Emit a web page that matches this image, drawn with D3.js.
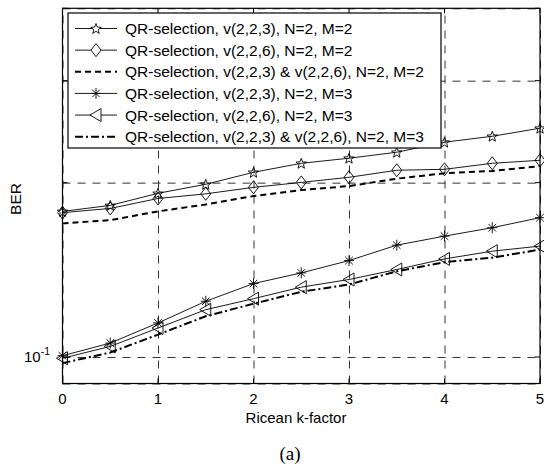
<!DOCTYPE html>
<html>
<head>
<meta charset="utf-8">
<script src="https://cdn.jsdelivr.net/npm/d3@7"></script>
<style>
	body { margin: 0; background: #fff; }
	svg { display: block; font-family: "Liberation Sans", Arial, sans-serif; }
</style>
</head>
<body>
<div id="chart"></div>
<script>

	// data
	const kFactor = [0, 0.5, 1, 1.5, 2, 2.5, 3, 3.5, 4, 4.5, 5];

	const berV223M2 = [0.1784, 0.1827, 0.1917, 0.1987, 0.2084, 0.2160, 0.2204, 0.2257, 0.2349, 0.2405, 0.2483];
	const berV226M2 = [0.1775, 0.1805, 0.1878, 0.1913, 0.1963, 0.2002, 0.2043, 0.2101, 0.2109, 0.2160, 0.2186];
	const berBothM2 = [0.1701, 0.1723, 0.1784, 0.1834, 0.1896, 0.1942, 0.1973, 0.2032, 0.2076, 0.2095, 0.2136];
	const berV223M3 = [0.1005, 0.1057, 0.1145, 0.1248, 0.1339, 0.1397, 0.1467, 0.1560, 0.1617, 0.1672, 0.1740];
	const berV226M3 = [0.0995, 0.1043, 0.1122, 0.1207, 0.1261, 0.1320, 0.1361, 0.1416, 0.1477, 0.1523, 0.1554];
	const berBothM3 = [0.0976, 0.1018, 0.1093, 0.1176, 0.1236, 0.1296, 0.1334, 0.1406, 0.1458, 0.1484, 0.1533];

	const legendLabels = [
		"QR-selection, v(2,2,3), N=2, M=2",
		"QR-selection, v(2,2,6), N=2, M=2",
		"QR-selection, v(2,2,3) & v(2,2,6), N=2, M=2",
		"QR-selection, v(2,2,3), N=2, M=3",
		"QR-selection, v(2,2,6), N=2, M=3",
		"QR-selection, v(2,2,3) & v(2,2,6), N=2, M=3"
	];

	const xTicks = [0, 1, 2, 3, 4, 5];
	const yGrid = [0.09, 0.1, 0.2, 0.3, 0.4];

	// series styles
	const series = [
		{values: berV223M2, marker: "star", dash: null, width: 0.9},
		{values: berV226M2, marker: "diamond", dash: null, width: 0.9},
		{values: berBothM2, marker: null, dash: "6,4", width: 2},
		{values: berV223M3, marker: "asterisk", dash: null, width: 0.9},
		{values: berV226M3, marker: "triangle", dash: null, width: 0.9},
		{values: berBothM3, marker: null, dash: "8,3,2,3", width: 2}
	];

	const W = 544, H = 468;
	const pLeft = 62.5, pRight = 540, pTop = 8.3, pBottom = 383.5;

	const sx = d3.scaleLinear().domain([0, 5]).range([pLeft, pRight]);
	const sy = d3.scaleLog().domain([0.09, 0.4]).range([pBottom, pTop]);

	const svg = d3.select("#chart").append("svg")
		.attr("width", W)
		.attr("height", H);

	// grid
	svg.append("g")
		.attr("transform", `translate(0,${pBottom})`)
		.call(d3.axisBottom(sx).tickValues(xTicks).tickSize(-(pBottom - pTop)).tickFormat(""))
		.call(g => g.select(".domain").remove())
		.selectAll("line")
		.attr("stroke", "#333")
		.attr("stroke-dasharray", "8,7");

	svg.append("g")
		.attr("transform", `translate(${pLeft},0)`)
		.call(d3.axisLeft(sy).tickValues(yGrid).tickSize(-(pRight - pLeft)).tickFormat(""))
		.call(g => g.select(".domain").remove())
		.selectAll("line")
		.attr("stroke", "#333")
		.attr("stroke-dasharray", "8,7");

	// inward ticks on all four sides
	const tick = 5;
	const ticks = svg.append("g").attr("stroke", "#000");
	xTicks.forEach(v => {
		ticks.append("line").attr("x1", sx(v)).attr("x2", sx(v)).attr("y1", pBottom).attr("y2", pBottom - tick);
		ticks.append("line").attr("x1", sx(v)).attr("x2", sx(v)).attr("y1", pTop).attr("y2", pTop + tick);
	});
	yGrid.forEach(v => {
		ticks.append("line").attr("y1", sy(v)).attr("y2", sy(v)).attr("x1", pLeft).attr("x2", pLeft + tick);
		ticks.append("line").attr("y1", sy(v)).attr("y2", sy(v)).attr("x1", pRight).attr("x2", pRight - tick);
	});

	// box
	svg.append("rect")
		.attr("x", pLeft).attr("y", pTop)
		.attr("width", pRight - pLeft).attr("height", pBottom - pTop)
		.attr("fill", "none")
		.attr("stroke", "#000")
		.attr("stroke-width", 1.2);

	// tick labels
	svg.append("g")
		.selectAll("text")
		.data(xTicks)
		.enter()
		.append("text")
		.attr("x", d => sx(d))
		.attr("y", 404)
		.attr("text-anchor", "middle")
		.attr("font-size", 15)
		.text(d => d);

	const yLab = svg.append("text")
		.attr("x", 50)
		.attr("y", sy(0.1) + 5)
		.attr("text-anchor", "end")
		.attr("font-size", 15);
	yLab.append("tspan").text("10");
	yLab.append("tspan").attr("dy", -7).attr("font-size", 10.5).text("-1");

	// axis labels
	svg.append("text")
		.attr("x", 296).attr("y", 423)
		.attr("text-anchor", "middle")
		.attr("font-size", 15)
		.text("Ricean k-factor");

	svg.append("text")
		.attr("transform", "translate(21,199) rotate(-90)")
		.attr("text-anchor", "middle")
		.attr("font-size", 15.5)
		.text("BER");

	svg.append("text")
		.attr("x", 290).attr("y", 460)
		.attr("text-anchor", "middle")
		.attr("font-family", "'Liberation Serif', 'Times New Roman', serif")
		.attr("font-size", 19)
		.text("(a)");

	// marker shapes
	function markerPath(type) {
		if (type === "star") {
			const pts = [];
			for (let i = 0; i < 10; i++) {
				const r = i % 2 === 0 ? 5.5 : 2.3;
				const a = -Math.PI / 2 + i * Math.PI / 5;
				pts.push([r * Math.cos(a), r * Math.sin(a) + 0.5]);
			}
			return "M" + pts.map(p => p.join(",")).join("L") + "Z";
		}
		if (type === "diamond") return "M0,-6.5L5,0L0,6.5L-5,0Z";
		if (type === "triangle") return "M-6,0L5,-6.5L5,6.5Z";
		if (type === "asterisk") return "M-5,0L5,0M0,-5.5L0,5.5M-3.8,-3.8L3.8,3.8M-3.8,3.8L3.8,-3.8";
		return "";
	}

	const line = d3.line()
		.x((d, i) => sx(kFactor[i]))
		.y(d => sy(d));

	const plot = svg.append("g");

	series.forEach(s => {
		plot.append("path")
			.datum(s.values)
			.attr("d", line)
			.attr("fill", "none")
			.attr("stroke", "#000")
			.attr("stroke-width", s.width)
			.attr("stroke-dasharray", s.dash);

		if (s.marker) {
			plot.selectAll(null)
				.data(s.values)
				.enter()
				.append("path")
				.attr("transform", (d, i) => `translate(${sx(kFactor[i])},${sy(d)})`)
				.attr("d", markerPath(s.marker))
				.attr("fill", "none")
				.attr("stroke", "#000")
				.attr("stroke-width", 0.9);
		}
	});

	// legend
	const lg = svg.append("g");
	lg.append("rect")
		.attr("x", 68).attr("y", 13)
		.attr("width", 441 - 68).attr("height", 148 - 13)
		.attr("fill", "#fff")
		.attr("stroke", "#000")
		.attr("stroke-width", 1.2);

	const rowY = d3.scaleLinear().domain([0, 5]).range([28.5, 136.7]);

	series.forEach((s, i) => {
		const y = rowY(i);
		lg.append("line")
			.attr("x1", 75).attr("x2", 117)
			.attr("y1", y).attr("y2", y)
			.attr("stroke", "#000")
			.attr("stroke-width", s.width)
			.attr("stroke-dasharray", s.dash);
		if (s.marker) {
			lg.append("path")
				.attr("transform", `translate(96,${y})`)
				.attr("d", markerPath(s.marker))
				.attr("fill", "#fff")
				.attr("stroke", "#000")
				.attr("stroke-width", 0.9);
		}
		lg.append("text")
			.attr("x", 125).attr("y", y + 5.5)
			.attr("font-size", 15.5)
			.text(legendLabels[i]);
	});

</script>
</body>
</html>
